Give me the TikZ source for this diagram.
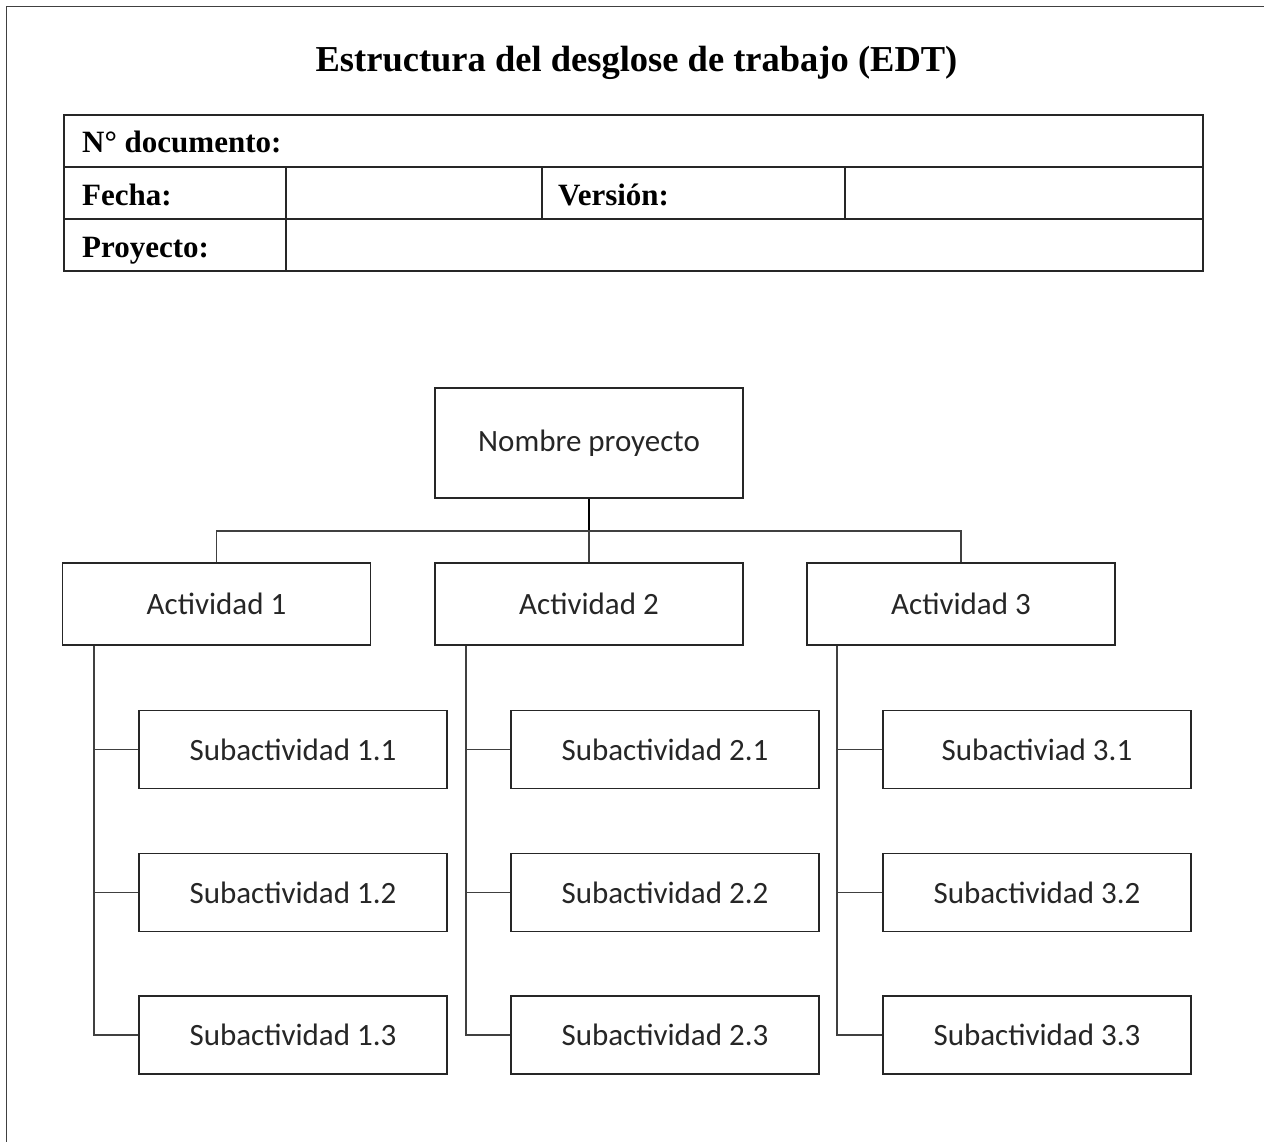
\documentclass[tikz,border=0pt]{standalone}
\usepackage{fontspec}
\setmainfont{Liberation Serif}
\newfontfamily\carlito{Carlito}
\begin{document}
\begin{tikzpicture}[x=1pt,y=-1pt,
  box/.style={draw=black!85,line width=1.4pt,inner sep=0pt,font=\carlito\fontsize{31}{36}\selectfont,text=black!85},
  rootbox/.style={box,minimum width=308pt,minimum height=110pt},
  actbox/.style={box,minimum width=308pt,minimum height=82pt},
  subbox/.style={box,minimum width=308pt,minimum height=78pt},
  conn/.style={draw=black!75,line width=1.3pt},
  tbl/.style={draw=black!85,line width=1.4pt},
  lbl/.style={anchor=base west,inner sep=0pt,font=\bfseries\fontsize{31}{36}\selectfont}]
\useasboundingbox (0,0) rectangle (1264,1142);
% page border
\draw[line width=1.2pt,black!75] (6.5,1142) -- (6.5,6.5) -- (1264,6.5);
% title
\node[anchor=base,inner sep=0pt,font=\bfseries\fontsize{36.5}{42}\selectfont] (title) at (636.5,72) {Estructura del desglose de trabajo (EDT)};
% table
\draw[tbl] (64,115) rectangle (1203,271);
\draw[tbl] (64,167) -- (1203,167);
\draw[tbl] (64,219) -- (1203,219);
\draw[tbl] (286,167) -- (286,271);
\draw[tbl] (542,167) -- (542,219);
\draw[tbl] (845,167) -- (845,219);
\node[lbl] (ndoc) at (82,153) {N° documento:};
\node[lbl] (fecha) at (82,205.5) {Fecha:};
\node[lbl] (version) at (558,205.5) {Versión:};
\node[lbl] (proy) at (82,258) {Proyecto:};
% tree
\node[rootbox] (root) at (589,443) {Nombre proyecto};
\node[actbox] (a1) at (216.5,604) {Actividad 1};
\node[actbox] (a2) at (589,604) {Actividad 2};
\node[actbox] (a3) at (961,604) {Actividad 3};
\node[subbox] (s11) at (293,749.5) {Subactividad 1.1};
\node[subbox] (s12) at (293,892.5) {Subactividad 1.2};
\node[subbox] (s13) at (293,1035) {Subactividad 1.3};
\node[subbox] (s21) at (665,749.5) {Subactividad 2.1};
\node[subbox] (s22) at (665,892.5) {Subactividad 2.2};
\node[subbox] (s23) at (665,1035) {Subactividad 2.3};
\node[subbox] (s31) at (1037,749.5) {Subactiviad 3.1};
\node[subbox] (s32) at (1037,892.5) {Subactividad 3.2};
\node[subbox] (s33) at (1037,1035) {Subactividad 3.3};
\coordinate (hub) at (589,531);
\draw[line width=2.2pt,black] (root.south) -- (hub);
\draw[conn] (a1.north) |- (hub) -| (a3.north);
\draw[conn] (hub) -- (a2.north);
\foreach \i/\x in {1/94,2/466,3/837}{
  \draw[conn] (a\i.south -| \x,0) |- (s\i3.west);
  \draw[conn] (\x,0 |- s\i1.west) -- (s\i1.west);
  \draw[conn] (\x,0 |- s\i2.west) -- (s\i2.west);
}
\end{tikzpicture}
\end{document}
